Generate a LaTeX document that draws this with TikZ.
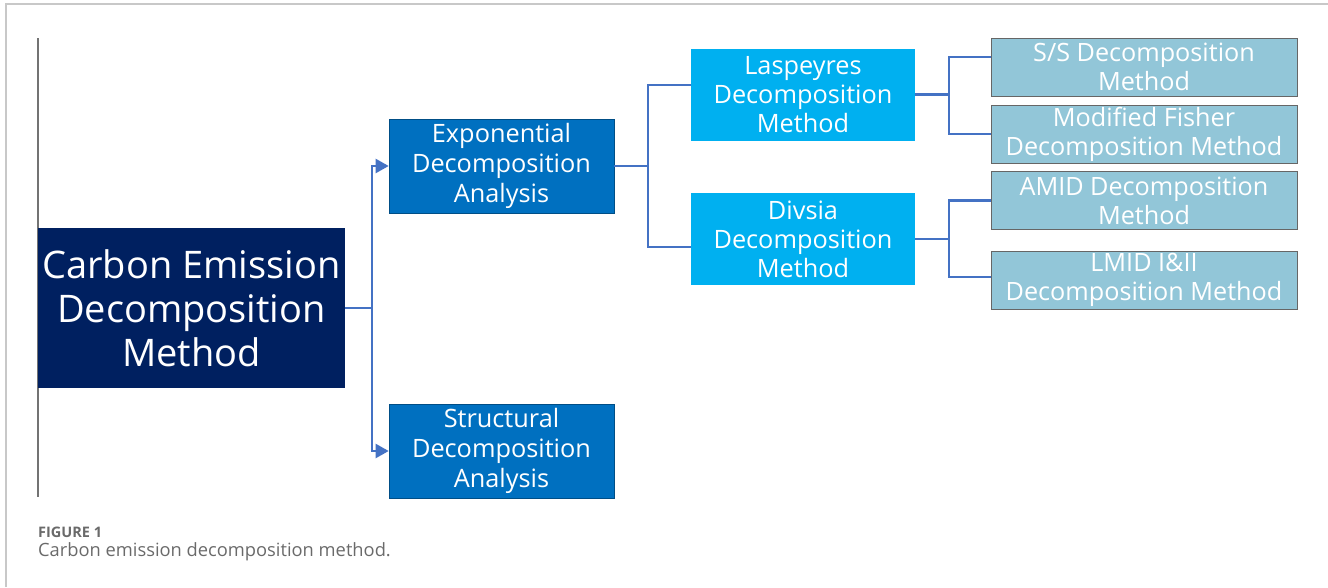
\documentclass[tikz,border=0pt]{standalone}
\usepackage{fontspec}
\setmainfont{Open Sans}
\usetikzlibrary{arrows.meta,calc}
\definecolor{navy}{HTML}{002060}
\definecolor{midblue}{HTML}{0070C0}
\definecolor{skyblue}{HTML}{00B0F0}
\definecolor{paleblue}{HTML}{92C6D8}
\definecolor{connblue}{HTML}{4472C4}
\definecolor{framegray}{HTML}{C8C8C8}
\definecolor{capgray}{HTML}{6A6A6A}
\tikzset{
  box/.style={inner sep=0pt, align=center, text=white},
  rootbox/.style={box, fill=navy, minimum width=307pt, minimum height=160pt, font=\fontsize{38}{44}\selectfont},
  l1box/.style={box, fill=midblue, draw=midblue!70!black, line width=0.6pt, minimum width=225pt, minimum height=94pt, font=\fontsize{25.3}{30}\selectfont},
  l2box/.style={box, fill=skyblue, minimum width=224pt, minimum height=92pt, font=\fontsize{25.3}{29}\selectfont},
  l3box/.style={box, fill=paleblue, draw=black!60, line width=0.8pt, minimum width=306pt, minimum height=58pt, font=\fontsize{25.2}{29}\selectfont},
  conn/.style={draw=connblue, line width=2.2pt},
  arr/.style={conn, -{Triangle[length=13pt,width=14pt]}}
}
\begin{document}
\begin{tikzpicture}[x=1pt,y=-1pt]
\useasboundingbox (0,0) rectangle (1328,587);
% page frame
\draw[framegray, line width=1.5pt] (6,587) -- (6,4) -- (1328,4);
\draw[black!55, line width=1.2pt] (38,38) -- (38,497);
% nodes
\node[rootbox] (root) at (191.5,308) {\raisebox{2pt}{\parbox{300pt}{\centering Carbon Emission\\Decomposition\\Method}}};
\node[l1box] (exp) at (501.5,166) {Exponential\\Decomposition\\Analysis};
\node[l1box] (str) at (501.5,451) {Structural\\Decomposition\\Analysis};
\node[l2box] (las) at (803,94.5) {Laspeyres\\Decomposition\\Method};
\node[l2box] (div) at (803,239) {Divsia\\Decomposition\\Method};
\node[l3box] (ss) at (1144,67) {S/S Decomposition\\Method};
\node[l3box] (mf) at (1144,134) {Modified Fisher\\Decomposition Method};
\node[l3box] (amid) at (1144,200.5) {AMID Decomposition\\Method};
\node[l3box] (lmid) at (1144,280) {LMID I\&II\\Decomposition Method};
% connectors
\coordinate (j1) at ($(root.east)+(27,0)$);
\draw[arr] (root.east) -- (j1) |- (exp.west);
\draw[arr] (root.east) -- (j1) |- (str.west);
\coordinate (j2) at ($(exp.east)+(34,0)$);
\draw[conn] (exp.east) -- (j2) |- ([yshift=9.5pt]las.west);
\draw[conn] (exp.east) -- (j2) |- ([yshift=-8pt]div.west);
\coordinate (j3) at ($(las.east)+(34,0)$);
\draw[conn] (las.east) -- (j3) |- ([yshift=10pt]ss.west);
\draw[conn] (las.east) -- (j3) |- (mf.west);
\coordinate (j4) at ($(div.east)+(34,0)$);
\draw[conn] (div.east) -- (j4) |- (amid.west);
\draw[conn] (div.east) -- (j4) |- ([yshift=3pt]lmid.west);
% caption
\node[anchor=west, inner sep=0pt, text=capgray, font=\fontsize{14.5}{17}\selectfont\bfseries] (fig) at (38,532) {FIGURE 1};
\node[anchor=west, inner sep=0pt, text=capgray, font=\fontsize{18.3}{22}\selectfont] (cap) at (38,552) {Carbon emission decomposition method.};
\end{tikzpicture}
\end{document}
